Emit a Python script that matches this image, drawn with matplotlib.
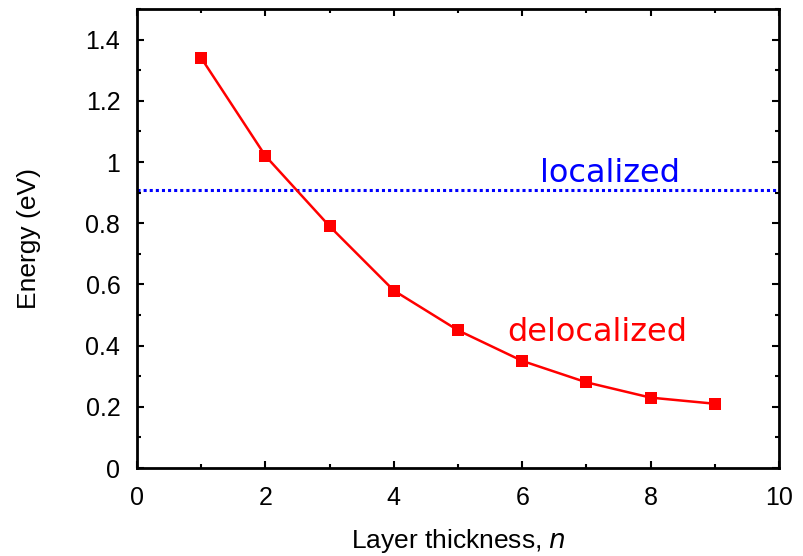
import matplotlib.pyplot as plt
from matplotlib.ticker import MultipleLocator

# layer thickness and energies
n_layers = [1, 2, 3, 4, 5, 6, 7, 8, 9]
energy_deloc = [1.34, 1.02, 0.79, 0.58, 0.45, 0.35, 0.28, 0.23, 0.21]
energy_loc = 0.91

y_ticks = [0, 0.2, 0.4, 0.6, 0.8, 1, 1.2, 1.4]
y_tick_labels = ['0', '0.2', '0.4', '0.6', '0.8', '1', '1.2', '1.4']

plt.rcParams['font.family'] = ['Liberation Sans', 'DejaVu Sans']

fig = plt.figure(figsize=(8.04, 5.56), dpi=100)
ax = fig.add_axes([137 / 804, 1 - 468 / 556, (779 - 137) / 804, (468 - 9) / 556])

ax.axhline(energy_loc, color='#0000ff', linestyle=(0, (1, 1)), linewidth=2.2)
ax.plot(n_layers, energy_deloc, color='#ff0000', linewidth=1.8,
        marker='s', markersize=8, markeredgewidth=0)

ax.text(6.27, 0.936, 'localized', color='#0000ff', fontsize=23,
        family='DejaVu Sans', va='baseline')
ax.text(5.77, 0.415, 'delocalized', color='#ff0000', fontsize=23,
        family='DejaVu Sans', va='baseline')

ax.set_xlim(0, 10)
ax.set_ylim(0, 1.5)
ax.xaxis.set_major_locator(MultipleLocator(2))
ax.xaxis.set_minor_locator(MultipleLocator(1))
ax.yaxis.set_minor_locator(MultipleLocator(0.1))
ax.set_yticks(y_ticks)
ax.set_yticklabels(y_tick_labels)

ax.tick_params(which='both', direction='in', top=True, right=True,
               labelsize=18, width=1.5)
ax.tick_params(which='major', length=5)
ax.tick_params(which='minor', length=3)
ax.tick_params(axis='x', pad=13)
ax.tick_params(axis='y', pad=12)
for s in ax.spines.values():
    s.set_linewidth(2)

ax.set_xlabel('Layer thickness, $n$', fontsize=19, labelpad=12)
ax.set_ylabel('Energy (eV)', fontsize=19, labelpad=32)

plt.savefig('out.png', dpi=100)
